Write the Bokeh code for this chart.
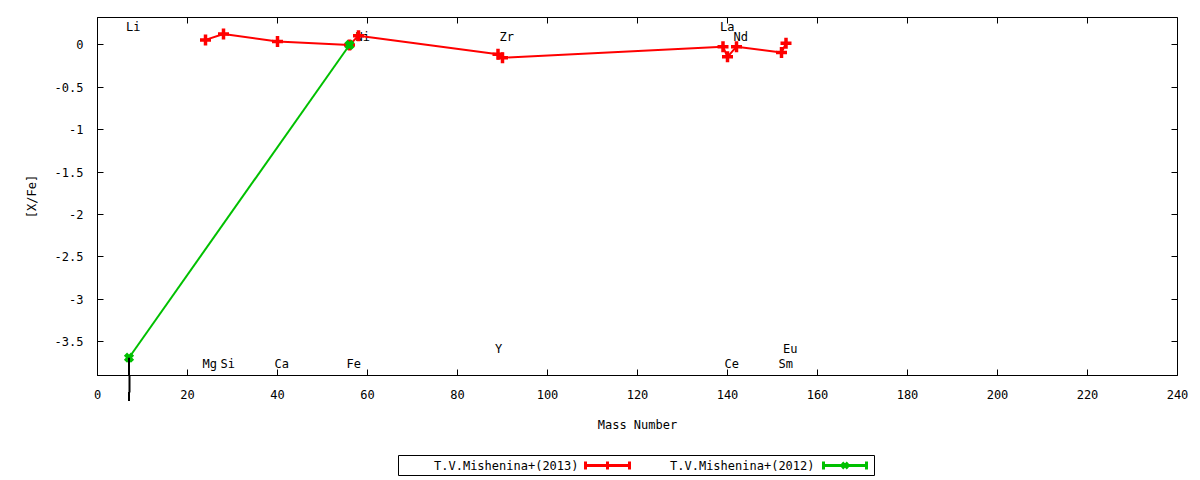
from bokeh.plotting import figure
from bokeh.models import (Range1d, LinearAxis, FixedTicker, Arrow, NormalHead, ColumnDataSource,
                          CustomJSTickFormatter)
from bokeh.layouts import column
from bokeh.embed import file_html
from bokeh.resources import INLINE
from bokeh.core.properties import value

# ---- data ----
mass_2013 = [24, 28, 40, 56, 58, 89, 90, 139, 140, 142, 152, 153]
xfe_2013 = [0.06, 0.13, 0.04, 0.0, 0.11, -0.11, -0.15, -0.02, -0.14, -0.02, -0.09, 0.02]

mass_2012 = [7, 56]
xfe_2012 = [-3.69, 0.0]
upper_limit_mass = [7]
upper_limit_val = [-3.69]

elem_names = ["Li", "Mg", "Si", "Ca", "Fe", "Ni", "Y", "Zr", "La", "Ce", "Nd", "Sm", "Eu"]
elem_mass = [7, 24, 28, 40, 56, 58, 89, 90, 139, 140, 142, 152, 153]
elem_label_y = [0.21, -3.76, -3.76, -3.76, -3.76, 0.09, -3.59, 0.09, 0.21, -3.76, 0.09, -3.76, -3.59]

x_ticks = list(range(0, 241, 20))
y_ticks = [0, -0.5, -1, -1.5, -2, -2.5, -3, -3.5]
y_tick_labels = ["0", "-0.5", "-1", "-1.5", "-2", "-2.5", "-3", "-3.5"]

legend_labels = ["T.V.Mishenina+(2013)", "T.V.Mishenina+(2012)"]

RED = "#ff0000"
GREEN = "#00c000"
FONT = "DejaVu Sans Mono"

p = figure(frame_width=1080, frame_height=358, output_backend="svg", toolbar_location=None,
           x_range=Range1d(0, 240), y_range=Range1d(-3.90, 0.324),
           min_border_left=97, min_border_top=17, min_border_right=15, min_border_bottom=73,
           x_axis_label="Mass Number", y_axis_label="[X/Fe]")
p.grid.visible = False
p.outline_line_color = "black"
p.background_fill_color = "white"

for ax in [p.xaxis[0], p.yaxis[0]]:
    ax.major_tick_in = 6
    ax.major_tick_out = 0
    ax.minor_tick_line_color = None
    ax.major_label_text_font = FONT
    ax.major_label_text_font_size = "12px"
    ax.major_label_text_color = "black"
    ax.axis_label_text_font = FONT
    ax.axis_label_text_font_size = "12px"
    ax.axis_label_text_font_style = "normal"
    ax.axis_label_text_color = "black"
    ax.axis_line_color = "black"
    ax.major_tick_line_color = "black"

# the upper-limit arrow shaft below the frame edge is drawn as the axis "minor tick" at that mass
p.xaxis[0].ticker = FixedTicker(ticks=x_ticks, minor_ticks=upper_limit_mass)
p.xaxis[0].minor_tick_line_color = "black"
p.xaxis[0].minor_tick_line_width = 2
p.xaxis[0].minor_tick_in = 0
p.xaxis[0].minor_tick_out = 17
p.xaxis[0].major_label_standoff = -3
p.xaxis[0].axis_label_standoff = 16
p.yaxis[0].ticker = FixedTicker(ticks=y_ticks)
p.yaxis[0].major_label_overrides = {t: l for t, l in zip(y_ticks, y_tick_labels)}
p.yaxis[0].major_label_standoff = 14
p.yaxis[0].axis_label_standoff = 13

blank = CustomJSTickFormatter(code="return ''")
top = LinearAxis(ticker=FixedTicker(ticks=x_ticks), formatter=blank, major_tick_in=6, major_tick_out=0,
                 minor_tick_line_color=None, major_label_standoff=0, axis_line_color=None)
right = LinearAxis(ticker=FixedTicker(ticks=y_ticks), formatter=blank, major_tick_in=6, major_tick_out=0,
                   minor_tick_line_color=None, major_label_standoff=0, axis_line_color=None)
p.add_layout(top, "above")
p.add_layout(right, "right")

# element labels
src_lab = ColumnDataSource(dict(x=elem_mass, y=elem_label_y, t=elem_names))
p.text(x="x", y="y", text="t", source=src_lab, text_font=value(FONT), text_font_size="12px",
       text_baseline="middle", text_align="left", x_offset=-3, text_color="black")

# 2013 series
p.line(mass_2013, xfe_2013, line_color=RED, line_width=2)
p.scatter(mass_2013, xfe_2013, marker="cross", size=11, line_color=RED, line_width=3.5)

# 2012 series
p.line(mass_2012, xfe_2012, line_color=GREEN, line_width=2)
p.scatter(mass_2012, xfe_2012, marker="x", size=10, line_color=GREEN, line_width=4.5)

# upper-limit arrow
for xm, yv in zip(upper_limit_mass, upper_limit_val):
    p.add_layout(Arrow(end=NormalHead(size=9, fill_color="black", line_color="black", line_width=1.5),
                       x_start=xm, y_start=yv, x_end=xm, y_end=yv - 0.51,
                       line_color="black", line_width=2))

# legend figure (its frame aligns with the main frame; x in page pixels)
lg = figure(frame_width=1080, frame_height=32, output_backend="svg", toolbar_location=None,
            x_range=Range1d(97, 1177), y_range=Range1d(32, 0), min_border=0,
            x_axis_location=None, y_axis_location=None)
lg.grid.visible = False
lg.outline_line_color = None
lg.quad(left=[398], right=[874], top=[7], bottom=[27], fill_color=None, line_color="black", line_width=1)
text_right = [578, 814]
samp_l = [585, 823]
samp_r = [629, 866]
colors = [RED, GREEN]
markers = ["cross", "x"]
lg.text(x=text_right, y=[17, 17], text=legend_labels, text_font=value(FONT), text_font_size="12px",
        text_align="right", text_baseline="middle")
for i in range(2):
    lg.segment(x0=[samp_l[i]], y0=[17], x1=[samp_r[i]], y1=[17], line_color=colors[i], line_width=3)
    lg.segment(x0=[samp_l[i], samp_r[i]], y0=[13, 13], x1=[samp_l[i], samp_r[i]], y1=[21, 21],
               line_color=colors[i], line_width=3)
    lg.scatter(x=[(samp_l[i] + samp_r[i]) / 2], y=[17], marker=markers[i], size=8,
               line_color=colors[i], line_width=3)

layout = column(p, lg, spacing=0)
open("out.html", "w").write(file_html(layout, INLINE))
